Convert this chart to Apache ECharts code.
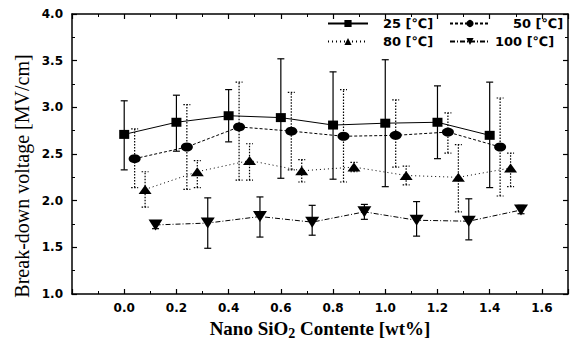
<!DOCTYPE html>
<html>
<head>
<meta charset="utf-8">
<script src="https://cdn.jsdelivr.net/npm/echarts@6/dist/echarts.min.js"></script>
<style>
  html, body { margin: 0; padding: 0; background: #fff; }
  #chart { width: 571px; height: 340px; }
</style>
</head>
<body>
<div id="chart"></div>
<script>
// values
const names = ['25 [℃]', '50 [℃]', '80 [℃]', '100 [℃]']

const x25 = [0.0, 0.2, 0.4, 0.6, 0.8, 1.0, 1.2, 1.4]
const y25 = [2.71, 2.84, 2.91, 2.89, 2.81, 2.83, 2.84, 2.70]
const lo25 = [2.33, 2.53, 2.63, 2.24, 2.23, 2.15, 2.45, 2.14]
const hi25 = [3.07, 3.13, 3.19, 3.52, 3.38, 3.51, 3.23, 3.27]

const x50 = [0.04, 0.24, 0.44, 0.64, 0.84, 1.04, 1.24, 1.44]
const y50 = [2.45, 2.575, 2.79, 2.745, 2.69, 2.70, 2.735, 2.575]
const lo50 = [2.14, 2.12, 2.22, 2.33, 2.20, 2.36, 2.51, 2.05]
const hi50 = [2.77, 3.03, 3.27, 3.16, 3.19, 3.08, 2.94, 3.10]

const x80 = [0.08, 0.28, 0.48, 0.68, 0.88, 1.08, 1.28, 1.48]
const y80 = [2.12, 2.31, 2.43, 2.32, 2.36, 2.27, 2.25, 2.35]
const lo80 = [1.93, 2.14, 2.22, 2.20, 2.31, 2.17, 1.88, 2.15]
const hi80 = [2.31, 2.43, 2.61, 2.44, 2.41, 2.37, 2.60, 2.51]

const x100 = [0.12, 0.32, 0.52, 0.72, 0.92, 1.12, 1.32, 1.52]
const y100 = [1.74, 1.76, 1.83, 1.77, 1.88, 1.79, 1.78, 1.90]
const lo100 = [1.70, 1.49, 1.61, 1.63, 1.80, 1.62, 1.58, 1.86]
const hi100 = [1.78, 2.03, 2.04, 1.95, 1.96, 1.99, 2.02, 1.95]

const black = '#000'
const labelFont = 'DejaVu Sans'
const titleFont = 'Liberation Serif'

const pts = (xs, ys) => xs.map((x, i) => [x, ys[i]])
const bars = (xs, lo, hi) => xs.map((x, i) => [x, lo[i], hi[i]])

// error bar with caps
function errRender(dash, width) {
  return function (params, api) {
    const x = api.value(0)
    const a = api.coord([x, api.value(1)])
    const b = api.coord([x, api.value(2)])
    const w = 3.5
    const style = { stroke: black, lineWidth: width, lineDash: dash, fill: null }
    return {
      type: 'group',
      children: [
        { type: 'line', shape: { x1: a[0], y1: a[1], x2: b[0], y2: b[1] }, style },
        { type: 'line', shape: { x1: a[0] - w, y1: a[1], x2: a[0] + w, y2: a[1] }, style },
        { type: 'line', shape: { x1: b[0] - w, y1: b[1], x2: b[0] + w, y2: b[1] }, style }
      ]
    }
  }
}

function lineSeries(name, data, symbol, size, dash, rotate) {
  return {
    name,
    type: 'line',
    data,
    symbol,
    symbolSize: size,
    symbolRotate: rotate || 0,
    itemStyle: { color: black },
    lineStyle: { color: black, width: 1, type: dash },
    z: 3
  }
}

function errSeries(name, data, dash, width) {
  return {
    name,
    type: 'custom',
    data,
    encode: { x: 0, y: [1, 2] },
    renderItem: errRender(dash, width),
    silent: true,
    z: 2
  }
}

const chart = echarts.init(document.getElementById('chart'), null, { renderer: 'svg' })

const tickLine = { inside: true, length: 5, lineStyle: { color: black, width: 1.2 } }
const minor = { show: true, splitNumber: 2, length: 3, lineStyle: { color: black, width: 1 } }
const axLine = { show: true, onZero: false, lineStyle: { color: black, width: 1.5 } }

function legendAt(name, left, top, pad) {
  return {
    data: [name],
    left,
    top,
    padding: 0,
    itemWidth: 40,
    itemHeight: 9,
    selectedMode: false,
    textStyle: {
      color: black,
      fontFamily: labelFont,
      fontWeight: 'bold',
      fontSize: 13,
      padding: [0, 0, 0, pad]
    }
  }
}

const option = {
  animation: false,
  backgroundColor: '#fff',
  grid: { left: 72, right: 3, top: 14, bottom: 46, outerBoundsMode: 'none' },
  legend: [
    legendAt(names[0], 327, 17, 10),
    legendAt(names[1], 449, 17, 18),
    legendAt(names[2], 327, 35, 10),
    legendAt(names[3], 449, 35, 0)
  ],
  xAxis: [
    {
      type: 'value',
      min: -0.2,
      max: 1.7,
      interval: 0.2,
      position: 'bottom',
      axisLine: axLine,
      axisTick: tickLine,
      minorTick: minor,
      splitLine: { show: false },
      axisLabel: {
        color: black,
        fontFamily: labelFont,
        fontWeight: 'bold',
        fontSize: 12,
        margin: 8,
        formatter: (v) => (v < -0.1 || v > 1.65 ? '' : (Math.abs(v) < 1e-9 ? 0 : v).toFixed(1))
      },
      name: '{a|Nano SiO}{s|2}{a| Contente [wt%]}',
      nameLocation: 'middle',
      nameGap: 19,
      nameTextStyle: {
        rich: {
          a: { fontFamily: titleFont, fontWeight: 'bold', fontSize: 19, lineHeight: 20, color: black, verticalAlign: 'top' },
          s: { fontFamily: titleFont, fontWeight: 'bold', fontSize: 14, lineHeight: 13, color: black, verticalAlign: 'top', padding: [8, 0, 0, 0] }
        }
      }
    },
    {
      type: 'value',
      min: -0.2,
      max: 1.7,
      interval: 0.2,
      position: 'top',
      axisLine: axLine,
      axisTick: tickLine,
      minorTick: minor,
      splitLine: { show: false },
      axisLabel: { show: false }
    }
  ],
  yAxis: [
    {
      type: 'value',
      min: 1,
      max: 4,
      interval: 0.5,
      position: 'left',
      axisLine: axLine,
      axisTick: tickLine,
      minorTick: minor,
      splitLine: { show: false },
      axisLabel: {
        color: black,
        fontFamily: labelFont,
        fontWeight: 'bold',
        fontSize: 12,
        margin: 9,
        formatter: (v) => v.toFixed(1)
      }
    },
    {
      type: 'value',
      min: 1,
      max: 4,
      interval: 0.5,
      position: 'right',
      axisLine: axLine,
      axisTick: tickLine,
      minorTick: minor,
      splitLine: { show: false },
      axisLabel: { show: false }
    }
  ],
  graphic: [
    {
      type: 'text',
      x: 22,
      y: 176,
      rotation: Math.PI / 2,
      style: {
        text: 'Break-down voltage [MV/cm]',
        fontFamily: titleFont,
        fontSize: 20,
        fill: black,
        textAlign: 'center',
        textVerticalAlign: 'middle'
      }
    }
  ],
  series: [
    errSeries('e25', bars(x25, lo25, hi25), null, 1.2),
    errSeries('e50', bars(x50, lo50, hi50), [1.5, 1.5], 1.2),
    errSeries('e80', bars(x80, lo80, hi80), [1.5, 1.5], 1.2),
    errSeries('e100', bars(x100, lo100, hi100), null, 1.2),
    lineSeries(names[0], pts(x25, y25), 'rect', [10, 9], 'solid'),
    lineSeries(names[1], pts(x50, y50), 'circle', [12, 9], [3, 2]),
    lineSeries(names[2], pts(x80, y80), 'triangle', [13, 9], [1, 3]),
    lineSeries(names[3], pts(x100, y100), 'triangle', [14, 11], [5, 2, 1, 2], 180)
  ]
}

chart.setOption(option)
</script>
</body>
</html>
